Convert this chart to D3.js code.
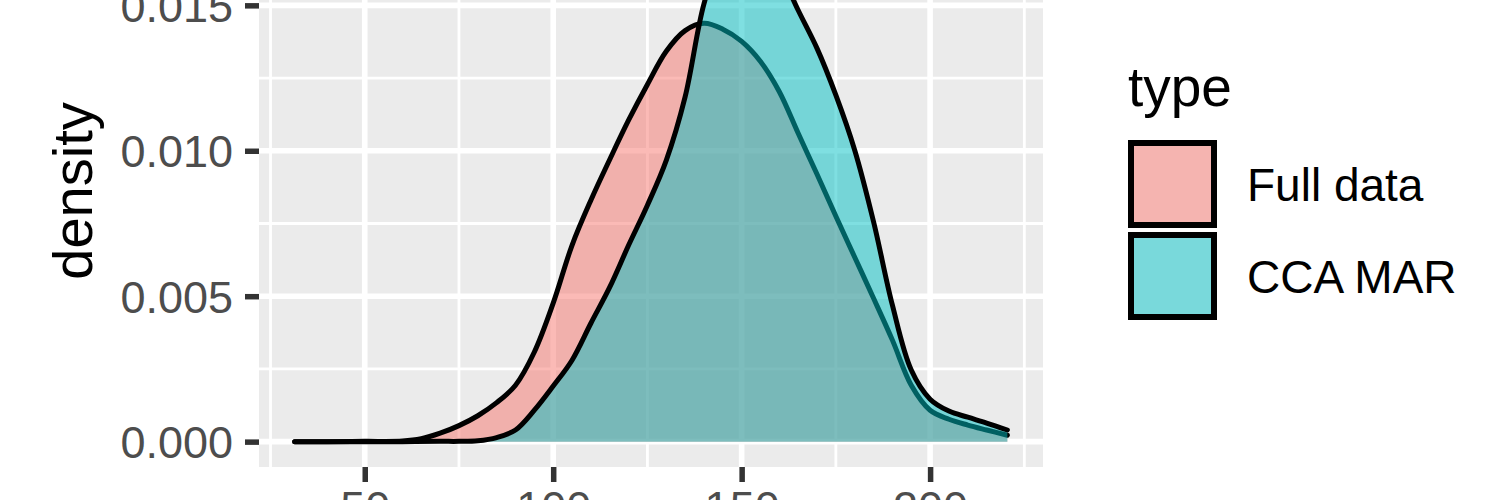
<!DOCTYPE html>
<html>
<head>
<meta charset="utf-8">
<script src="https://cdn.jsdelivr.net/npm/d3@7"></script>
<style>
  html, body { margin: 0; padding: 0; background: #ffffff; }
  svg { display: block; font-family: "Liberation Sans", Arial, Helvetica, sans-serif; }
</style>
</head>
<body>
<svg id="chart" width="1500" height="500"></svg>
<script>
// ---- data ----
const seriesNames = ["Full data", "CCA MAR"];
const seriesColors = ["#F8766D", "#00BFC4"];

const fullX = [31.4, 40, 50, 60, 65, 70, 75, 80, 85, 90, 95, 100, 105, 110, 115, 120, 125, 130, 135, 140, 145, 150, 155, 160, 165, 170, 175, 180, 185, 190, 195, 200, 205, 210, 215, 220.5];
const fullY = [0, 0, 0.00001, 0.00002, 0.0001, 0.00029, 0.00055, 0.00089, 0.00134, 0.00194, 0.00308, 0.00476, 0.00675, 0.0083, 0.0097, 0.01105, 0.01228, 0.01342, 0.01413, 0.01438, 0.01418, 0.01376, 0.01307, 0.01203, 0.0106, 0.00919, 0.00775, 0.00634, 0.00493, 0.00349, 0.00194, 0.00108, 0.00077, 0.00057, 0.0004, 0.00022];

const ccaX = [31.4, 40, 50, 60, 70, 75, 80, 85, 90, 95, 100, 105, 110, 115, 120, 125, 130, 135, 140, 145, 150, 155, 160, 165, 170, 175, 180, 185, 190, 195, 200, 205, 210, 215, 220.5];
const ccaY = [0, 0, 0, 0, 0.00001, 0.00001, 0.00003, 0.00014, 0.0004, 0.00108, 0.00191, 0.0028, 0.00407, 0.00531, 0.00675, 0.00813, 0.00967, 0.01185, 0.01505, 0.01689, 0.01744, 0.01723, 0.0162, 0.01483, 0.01352, 0.01191, 0.01002, 0.00756, 0.00469, 0.00246, 0.00146, 0.00105, 0.00084, 0.00064, 0.0004];

const xMajor = [50, 100, 150, 200];
const xMinor = [25, 75, 125, 175, 225];
const yMajor = [0, 0.005, 0.010, 0.015];
const yMinor = [0.0025, 0.0075, 0.0125];
const yTickLabels = ["0.000", "0.005", "0.010", "0.015"];
const xTickLabels = ["50", "100", "150", "200"];
const legendTitle = "type";
const yTitle = "density";

// ---- layout ----
const panel = { left: 259, right: 1043, top: -91, bottom: 467 };

const series = [
  { name: seriesNames[0], color: seriesColors[0], pts: fullX.map((x, i) => [x, fullY[i]]) },
  { name: seriesNames[1], color: seriesColors[1], pts: ccaX.map((x, i) => [x, ccaY[i]]) }
];

const allX = fullX.concat(ccaX);
const allY = fullY.concat(ccaY).concat([0]);
const [xmin, xmax] = d3.extent(allX);
const [ymin, ymax] = d3.extent(allY);
const xe = (xmax - xmin) * 0.05, ye = (ymax - ymin) * 0.05;

const x = d3.scaleLinear().domain([xmin - xe, xmax + xe]).range([panel.left, panel.right]);
const y = d3.scaleLinear().domain([ymin - ye, ymax + ye]).range([panel.bottom, panel.top]);

const svg = d3.select("#chart");

// panel background
svg.append("rect")
  .attr("x", panel.left).attr("y", panel.top)
  .attr("width", panel.right - panel.left).attr("height", panel.bottom - panel.top)
  .attr("fill", "#EBEBEB");

const grid = svg.append("g");
grid.selectAll("line.ymin").data(yMinor).join("line")
  .attr("x1", panel.left).attr("x2", panel.right)
  .attr("y1", d => y(d)).attr("y2", d => y(d))
  .attr("stroke", "#fff").attr("stroke-width", 2.8);
grid.selectAll("line.xmin").data(xMinor).join("line")
  .attr("y1", panel.top).attr("y2", panel.bottom)
  .attr("x1", d => x(d)).attr("x2", d => x(d))
  .attr("stroke", "#fff").attr("stroke-width", 2.8);
grid.selectAll("line.ymaj").data(yMajor).join("line")
  .attr("x1", panel.left).attr("x2", panel.right)
  .attr("y1", d => y(d)).attr("y2", d => y(d))
  .attr("stroke", "#fff").attr("stroke-width", 5.6);
grid.selectAll("line.xmaj").data(xMajor).join("line")
  .attr("y1", panel.top).attr("y2", panel.bottom)
  .attr("x1", d => x(d)).attr("x2", d => x(d))
  .attr("stroke", "#fff").attr("stroke-width", 5.6);

// densities
const curve = d3.curveCatmullRom.alpha(0.5);
const area = d3.area().x(d => x(d[0])).y0(y(0)).y1(d => y(Math.max(0, d[1]))).curve(curve);
const line = d3.line().x(d => x(d[0])).y(d => y(d[1])).curve(curve);

series.forEach(s => {
  svg.append("path").attr("d", area(s.pts)).attr("fill", s.color).attr("fill-opacity", 0.5);
  svg.append("path").attr("d", line(s.pts)).attr("fill", "none")
    .attr("stroke", "#000").attr("stroke-width", 5)
    .attr("stroke-linejoin", "round").attr("stroke-linecap", "round");
});

// axes
const yAxis = d3.axisLeft(y).tickValues(yMajor).tickFormat((d, i) => yTickLabels[i]).tickSize(14).tickPadding(12);
const gy = svg.append("g").attr("transform", `translate(${panel.left},0)`).call(yAxis);
gy.select(".domain").remove();
gy.selectAll(".tick line").attr("stroke", "#333333").attr("stroke-width", 5.5);
gy.selectAll(".tick text").attr("fill", "#4D4D4D").attr("font-size", 45)
  .attr("font-family", "Liberation Sans, Arial, sans-serif").attr("dy", "0.36em");

const xAxis = d3.axisBottom(x).tickValues(xMajor).tickFormat((d, i) => xTickLabels[i]).tickSize(15).tickPadding(7);
const gx = svg.append("g").attr("transform", `translate(0,${panel.bottom})`).call(xAxis);
gx.select(".domain").remove();
gx.selectAll(".tick line").attr("stroke", "#333333").attr("stroke-width", 5.5);
gx.selectAll(".tick text").attr("fill", "#4D4D4D").attr("font-size", 45)
  .attr("font-family", "Liberation Sans, Arial, sans-serif").attr("dy", "0.76em");

// y title
svg.append("text")
  .attr("transform", `translate(92,${(panel.top + panel.bottom) / 2 + 3}) rotate(-90)`)
  .attr("text-anchor", "middle")
  .attr("font-size", 56).attr("fill", "#000")
  .text(yTitle);

// legend
const lg = svg.append("g");
lg.append("text").attr("x", 1128).attr("y", 106).attr("font-size", 55).attr("fill", "#000").text(legendTitle);
const keyTop = [143, 235];
series.forEach((s, i) => {
  lg.append("rect").attr("x", 1131).attr("y", keyTop[i]).attr("width", 83).attr("height", 82).attr("fill", "#F2F2F2");
  lg.append("rect").attr("x", 1131).attr("y", keyTop[i]).attr("width", 83).attr("height", 82)
    .attr("fill", s.color).attr("fill-opacity", 0.5)
    .attr("stroke", "#000").attr("stroke-width", 6);
  lg.append("text").attr("x", 1247).attr("y", keyTop[i] + 41).attr("dy", "0.36em")
    .attr("font-size", 46).attr("fill", "#000").text(s.name);
});
</script>
</body>
</html>
